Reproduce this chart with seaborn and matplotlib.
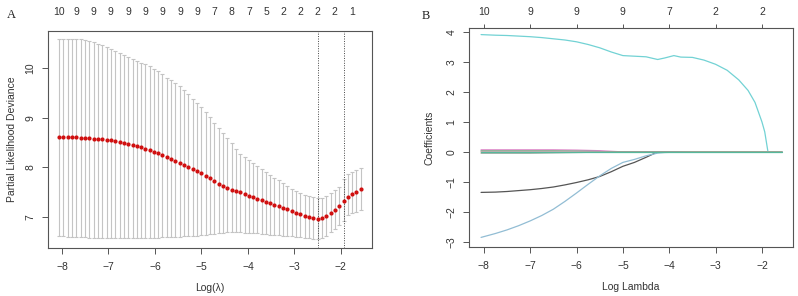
import numpy as np
import pandas as pd
import seaborn as sns
import matplotlib
matplotlib.use("Agg")
import matplotlib.pyplot as plt

# ---- panel A: cross-validation curve ----
log_lambda = [-8.06, -7.97, -7.87, -7.78, -7.69, -7.60, -7.50, -7.41, -7.32, -7.23,
              -7.13, -7.04, -6.95, -6.85, -6.76, -6.67, -6.58, -6.48, -6.39, -6.30,
              -6.21, -6.11, -6.02, -5.93, -5.84, -5.74, -5.65, -5.56, -5.46, -5.37,
              -5.28, -5.19, -5.09, -5.00, -4.91, -4.82, -4.72, -4.63, -4.54, -4.44,
              -4.35, -4.26, -4.17, -4.07, -3.98, -3.89, -3.80, -3.70, -3.61, -3.52,
              -3.43, -3.33, -3.24, -3.15, -3.05, -2.96, -2.87, -2.78, -2.68, -2.59,
              -2.50, -2.41, -2.31, -2.22, -2.13, -2.04, -1.94, -1.85, -1.76, -1.67,
              -1.57]
cv_mean = [8.61, 8.61, 8.61, 8.61, 8.61, 8.60, 8.60, 8.59, 8.58, 8.57,
           8.56, 8.55, 8.54, 8.52, 8.51, 8.49, 8.47, 8.44, 8.42, 8.40,
           8.37, 8.34, 8.31, 8.28, 8.25, 8.21, 8.17, 8.13, 8.09, 8.05,
           8.01, 7.97, 7.93, 7.88, 7.83, 7.78, 7.72, 7.67, 7.62, 7.58,
           7.55, 7.53, 7.50, 7.47, 7.43, 7.40, 7.37, 7.34, 7.31, 7.28,
           7.25, 7.22, 7.19, 7.16, 7.12, 7.09, 7.06, 7.03, 7.00, 6.98,
           6.97, 6.98, 7.02, 7.08, 7.14, 7.22, 7.32, 7.41, 7.46, 7.51,
           7.56]
cv_upper = [10.58, 10.58, 10.58, 10.58, 10.58, 10.57, 10.56, 10.54, 10.51, 10.48,
            10.45, 10.41, 10.37, 10.33, 10.29, 10.25, 10.21, 10.17, 10.13, 10.10,
            10.07, 10.03, 9.98, 9.93, 9.87, 9.80, 9.75, 9.69, 9.63, 9.56,
            9.47, 9.38, 9.30, 9.21, 9.11, 9.01, 8.90, 8.80, 8.70, 8.60,
            8.48, 8.37, 8.27, 8.20, 8.14, 8.08, 8.02, 7.96, 7.90, 7.85,
            7.79, 7.74, 7.68, 7.63, 7.57, 7.52, 7.48, 7.45, 7.42, 7.40,
            7.39, 7.39, 7.43, 7.48, 7.54, 7.61, 7.76, 7.86, 7.91, 7.95,
            7.99]
cv_lower = [6.62, 6.62, 6.61, 6.61, 6.61, 6.60, 6.60, 6.59, 6.59, 6.59,
            6.58, 6.58, 6.58, 6.58, 6.58, 6.58, 6.58, 6.58, 6.58, 6.58,
            6.59, 6.59, 6.59, 6.59, 6.60, 6.60, 6.60, 6.61, 6.61, 6.62,
            6.62, 6.63, 6.63, 6.64, 6.65, 6.66, 6.67, 6.68, 6.69, 6.70,
            6.70, 6.70, 6.70, 6.69, 6.69, 6.68, 6.68, 6.67, 6.66, 6.65,
            6.65, 6.64, 6.63, 6.62, 6.62, 6.61, 6.60, 6.59, 6.58, 6.57,
            6.56, 6.58, 6.63, 6.70, 6.76, 6.84, 6.93, 7.05, 7.08, 7.11,
            7.14]
nonzero_a = [10, 9, 9, 9, 9, 9, 9, 9, 9, 7, 8, 7, 5, 2, 2, 2, 2, 1]
lambda_min = -2.50
lambda_1se = -1.94

# ---- panel B: coefficient paths ----
log_lambda_b = [-8.06, -7.75, -7.5, -7.25, -7.0, -6.75, -6.5, -6.25, -6.0, -5.75,
                -5.5, -5.25, -5.0, -4.75, -4.5, -4.25, -4.1, -3.9, -3.75, -3.5,
                -3.25, -3.0, -2.75, -2.5, -2.3, -2.15, -2.0, -1.94, -1.87, -1.75,
                -1.57]
coef_cyan = [3.91, 3.89, 3.88, 3.86, 3.84, 3.81, 3.77, 3.73, 3.67, 3.58,
             3.47, 3.33, 3.21, 3.19, 3.17, 3.08, 3.13, 3.21, 3.16, 3.15,
             3.06, 2.92, 2.72, 2.40, 2.05, 1.65, 1.00, 0.67, 0.0, 0.0,
             0.0]
coef_blue = [-2.85, -2.72, -2.60, -2.46, -2.30, -2.12, -1.91, -1.65, -1.37, -1.08,
             -0.80, -0.55, -0.35, -0.25, -0.13, -0.04, -0.02, -0.01, -0.01, 0.0,
             0.0, 0.0, 0.0, 0.0, 0.0, 0.0, 0.0, 0.0, 0.0, 0.0,
             0.0]
coef_black = [-1.35, -1.34, -1.32, -1.29, -1.26, -1.22, -1.17, -1.10, -1.02, -0.93,
              -0.82, -0.66, -0.48, -0.35, -0.18, 0.0, 0.0, 0.0, 0.0, 0.0,
              0.0, 0.0, 0.0, 0.0, 0.0, 0.0, 0.0, 0.0, 0.0, 0.0,
              0.0]
coef_pink = [0.07, 0.07, 0.07, 0.07, 0.07, 0.07, 0.07, 0.065, 0.06, 0.05,
             0.04, 0.02, 0.0, 0.0, 0.0, 0.0, 0.0, 0.0, 0.0, 0.0,
             0.0, 0.0, 0.0, 0.0, 0.0, 0.0, 0.0, 0.0, 0.0, 0.0,
             0.0]
coef_green = [0.04, 0.04, 0.04, 0.04, 0.04, 0.04, 0.04, 0.035, 0.03, 0.02,
              0.01, 0.0, 0.0, 0.0, 0.0, 0.0, 0.0, 0.0, 0.0, 0.0,
              0.0, 0.0, 0.0, 0.0, 0.0, 0.0, 0.0, 0.0, 0.0, 0.0,
              0.0]
coef_gray = [-0.04, -0.04, -0.04, -0.04, -0.04, -0.035, -0.03, -0.025, -0.02, -0.015,
             -0.01, 0.0, 0.0, 0.0, 0.0, 0.0, 0.0, 0.0, 0.0, 0.0,
             0.0, 0.0, 0.0, 0.0, 0.0, 0.0, 0.0, 0.0, 0.0, 0.0,
             0.0]
coef_purple = [0.02, 0.02, 0.02, 0.02, 0.02, 0.02, 0.02, 0.02, 0.02, 0.02,
               0.015, 0.0, 0.0, 0.0, 0.0, 0.0, 0.0, 0.0, 0.0, 0.0,
               0.0, 0.0, 0.0, 0.0, 0.0, 0.0, 0.0, 0.0, 0.0, 0.0,
               0.0]
coef_yellow = [-0.01, -0.01, -0.01, -0.01, -0.01, -0.01, -0.01, -0.01, -0.01, -0.01,
               -0.01, -0.01, -0.01, -0.01, -0.01, -0.01, -0.01, -0.01, -0.005, 0.0,
               0.0, 0.0, 0.0, 0.0, 0.0, 0.0, 0.0, 0.0, 0.0, 0.0,
               0.0]
coef_teal = [0.0] * 31
top_ticks_b = [-8, -7, -6, -5, -4, -3, -2]
nonzero_b = [10, 9, 9, 9, 7, 2, 2]

sns.set_style("ticks")
plt.rcParams["font.family"] = ["Liberation Sans", "DejaVu Sans"]
frame_col = "#555555"
text_col = "#333333"

fig = plt.figure(figsize=(7.98, 2.96), dpi=100)
ax1 = fig.add_axes([48 / 798, 48 / 296, 324 / 798, 217 / 296])
ax2 = fig.add_axes([469 / 798, 49 / 296, 324 / 798, 219 / 296])

# panel A
cv_df = pd.DataFrame({"lam": log_lambda, "mean": cv_mean, "lo": cv_lower, "hi": cv_upper})
ax1.errorbar(cv_df["lam"], cv_df["mean"],
             yerr=[cv_df["mean"] - cv_df["lo"], cv_df["hi"] - cv_df["mean"]],
             fmt="none", ecolor="#c4c4c4", elinewidth=0.8, capsize=1.6, capthick=0.8, zorder=1)
sns.scatterplot(data=cv_df, x="lam", y="mean", ax=ax1, color="#d01010", s=9,
                linewidth=0, zorder=3)
for v in [lambda_min, lambda_1se]:
    ax1.axvline(v, color="#444444", linestyle=(0, (1, 1.5)), linewidth=0.7, zorder=2)
ax1.set_xlim(-8.30, -1.33)
ax1.set_ylim(6.38, 10.74)
ax1.set_xticks([-8, -7, -6, -5, -4, -3, -2])
ax1.set_yticks([7, 8, 9, 10])
ax1.set_xlabel("Log(\u03bb)", fontsize=7.5, color=text_col, labelpad=8)
ax1.set_ylabel("Partial Likelihood Deviance", fontsize=7.5, color=text_col, labelpad=6)
top1 = ax1.secondary_xaxis("top")
top1.set_xticks(log_lambda[::4])
top1.set_xticklabels([str(n) for n in nonzero_a])
top1.tick_params(length=0, pad=10, labelsize=7.5, labelcolor=text_col)
top1.spines["top"].set_visible(False)

# panel B
paths = [("black", coef_black, "#555555"), ("pink", coef_pink, "#dd88c8"),
         ("green", coef_green, "#8cbf86"), ("blue", coef_blue, "#92bdd4"),
         ("cyan", coef_cyan, "#72d2d4"), ("purple", coef_purple, "#a58ab8"),
         ("yellow", coef_yellow, "#e6d7a0"), ("gray", coef_gray, "#8f9a8f"),
         ("teal", coef_teal, "#55b89c")]
for name, vals, col in paths:
    path_df = pd.DataFrame({"lam": log_lambda_b, "coef": vals})
    sns.lineplot(data=path_df, x="lam", y="coef", ax=ax2, color=col,
                 linewidth=0.9, estimator=None, sort=False)
ax2.set_xlim(-8.32, -1.33)
ax2.set_ylim(-3.17, 4.13)
ax2.set_xticks([-8, -7, -6, -5, -4, -3, -2])
ax2.set_yticks([-3, -2, -1, 0, 1, 2, 3, 4])
ax2.set_xlabel("Log Lambda", fontsize=7.5, color=text_col, labelpad=8)
ax2.set_ylabel("Coefficients", fontsize=7.5, color=text_col, labelpad=9)
top2 = ax2.secondary_xaxis("top")
top2.set_xticks(top_ticks_b)
top2.set_xticklabels([str(n) for n in nonzero_b])
top2.tick_params(length=3, width=0.7, color=frame_col, pad=5, labelsize=7.5,
                 labelcolor=text_col)
top2.spines["top"].set_visible(False)

for ax in [ax1, ax2]:
    for sp in ax.spines.values():
        sp.set_visible(True)
        sp.set_color(frame_col)
        sp.set_linewidth(0.8)
    ax.tick_params(axis="both", length=4, width=0.7, color=frame_col,
                   labelsize=7.5, labelcolor=text_col)
    ax.tick_params(axis="x", pad=6)
    ax.tick_params(axis="y", pad=5)
    for lab in ax.get_yticklabels():
        lab.set_rotation(90)
        lab.set_va("center")

fig.text(11 / 798, 1 - 15 / 296, "A", fontsize=9, family="Liberation Serif",
         ha="center", va="center", color="#222222")
fig.text(426 / 798, 1 - 16 / 296, "B", fontsize=9, family="Liberation Serif",
         ha="center", va="center", color="#222222")

fig.savefig("out.png", dpi=100)
